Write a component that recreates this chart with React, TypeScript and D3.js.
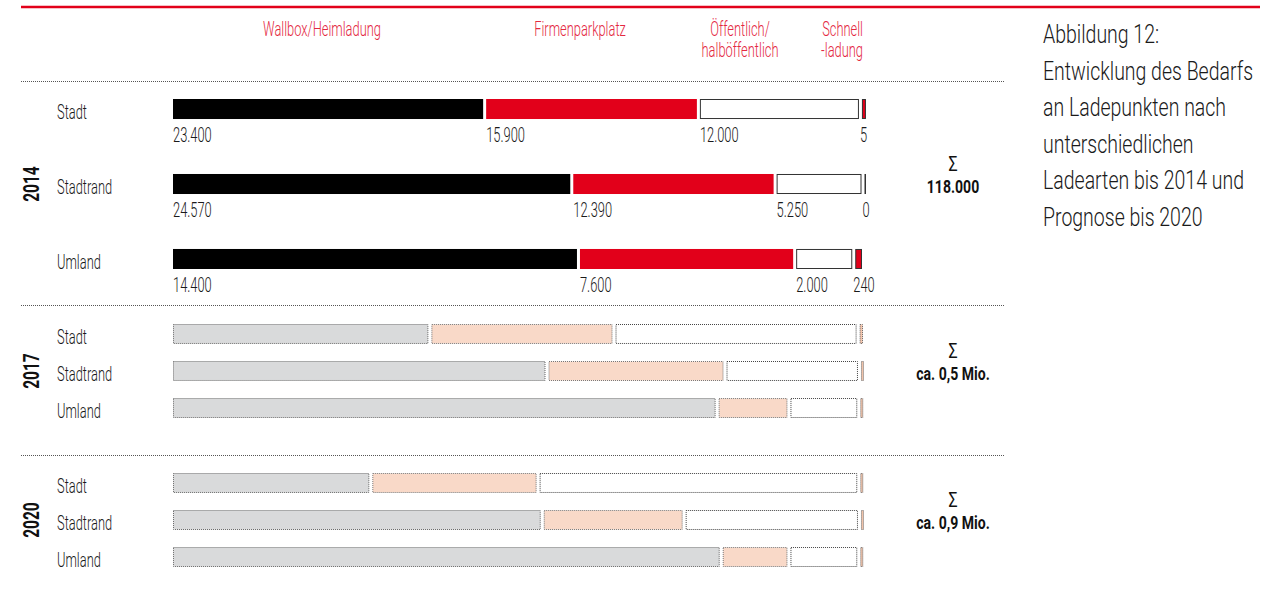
import React from 'react';
import * as d3 from 'd3';

// categories (segment order in every bar)
const categories = ['Wallbox/Heimladung', 'Firmenparkplatz', 'Öffentlich/halböffentlich', 'Schnellladung'];
const headerLines = [['Wallbox/Heimladung'], ['Firmenparkplatz'], ['Öffentlich/', 'halböffentlich'], ['Schnell', '-ladung']];
const areas = ['Stadt', 'Stadtrand', 'Umland'];
const years = ['2014', '2017', '2020'];

// 2014: counted charging points
const values2014 = [
  [23400, 15900, 12000, 5],
  [24570, 12390, 5250, 0],
  [14400, 7600, 2000, 240],
];
// 2017 / 2020 forecast: shares in % (no labels in original)
const shares2017 = [
  [37.5, 26.6, 35.4, 0.5],
  [54.7, 25.7, 19.3, 0.3],
  [79.6, 10.1, 9.8, 0.4],
];
const shares2020 = [
  [28.8, 24.1, 46.6, 0.4],
  [54.0, 20.4, 25.3, 0.3],
  [80.2, 9.5, 9.8, 0.4],
];
const sums = ['118.000', 'ca. 0,5 Mio.', 'ca. 0,9 Mio.'];
const titleLines = [
  'Abbildung 12:',
  'Entwicklung des Bedarfs',
  'an Ladepunkten nach',
  'unterschiedlichen',
  'Ladearten bis 2014 und',
  'Prognose bis 2020',
];

const RED = '#e2001a';
const FONT = "Roboto, 'DejaVu Sans', sans-serif";
const de = d3.formatLocale({ decimal: ',', thousands: '.', grouping: [3], currency: ['', ' €'] });
const fmt = de.format(',');

// layout of the three year blocks
const groups = [
  { data: values2014, top: 81, barTop: 99, barBottom: 269, pad: 0.733, actual: true },
  { data: shares2017, top: 305, barTop: 324, barBottom: 418, pad: 0.46, actual: false },
  { data: shares2020, top: 455, barTop: 473, barBottom: 567, pad: 0.46, actual: false },
];

const X0 = 173;
const X1 = 866;
const GAP = 3;

const styles2014 = [
  { fill: '#000', stroke: 'none' },
  { fill: RED, stroke: 'none' },
  { fill: '#fff', stroke: '#333' },
  { fill: RED, stroke: '#333' },
];
const stylesForecast = [
  { fill: '#d9dadb', stroke: '#666' },
  { fill: '#f9d9c8', stroke: '#777' },
  { fill: '#fff', stroke: '#444' },
  { fill: '#f3c4ab', stroke: '#666' },
];

const T = ({ x, y, children, sx = 0.66, size = 19.5, weight = 300, anchor = 'start', fill = '#1a1a1a', rotate = 0 }: any) => (
  <text
    transform={`translate(${x},${y})${rotate ? ` rotate(${rotate})` : ''} scale(${sx},1)`}
    textAnchor={anchor}
    fontSize={size}
    fontWeight={weight}
    fontFamily={FONT}
    fill={fill}
  >
    {children}
  </text>
);

function layoutRow(vals: number[], minLast: number) {
  const total = d3.sum(vals);
  const x = d3.scaleLinear().domain([0, total]).range([0, X1 - X0 - GAP * (vals.length - 1) - minLast]);
  let pos = X0;
  return vals.map((v, i) => {
    const w = i === vals.length - 1 ? Math.max(minLast, x(v)) : x(v);
    const seg = { x: pos, w, v, i };
    pos += w + GAP;
    return seg;
  });
}

export default function App() {
  return (
    <svg width={1284} height={599} style={{ position: 'absolute', left: 0, top: 0, display: 'block' }}>
      <rect width={1284} height={599} fill="#fff" />
      <line x1={21} x2={1260} y1={7} y2={7} stroke={RED} strokeWidth={2.5} />

      {headerLines.map((lines, i) =>
        lines.map((l, j) => {
          const cx = [322, 580, 740, 863][i];
          return (
            <T key={categories[i] + j} x={cx} y={35.5 + j * 21} anchor={i === 3 ? 'end' : 'middle'} fill="#e4283f">
              {l}
            </T>
          );
        })
      )}

      {groups.map((g, gi) => {
        const y = d3.scaleBand<string>().domain(areas).range([g.barTop, g.barBottom]).paddingInner(g.pad);
        const mid = (g.barTop + g.barBottom) / 2;
        const st = g.actual ? styles2014 : stylesForecast;
        return (
          <g key={years[gi]}>
            <line x1={21} x2={1005} y1={g.top + 0.5} y2={g.top + 0.5} stroke="#555" strokeDasharray="1,1" />
            <T x={38.5} y={mid} rotate={-90} anchor="middle" size={21.5} weight={700} sx={0.72} fill="#111">
              {years[gi]}
            </T>
            <T x={953} y={mid - 13} anchor="middle" size={20} weight={400} sx={0.8} fill="#111">
              Σ
            </T>
            <T x={953} y={mid + 9} anchor="middle" size={18.5} weight={700} sx={0.76} fill="#111">
              {sums[gi]}
            </T>
            {areas.map((a, ri) => {
              const top = y(a)!;
              const h = y.bandwidth();
              const segs = layoutRow(g.data[ri], g.actual ? (g.data[ri][3] === 0 ? 1.5 : 4) : 3);
              return (
                <g key={a}>
                  <T x={57} y={top + h}>{a}</T>
                  {segs.map((s) => {
                    const sty = st[s.i];
                    const stroked = sty.stroke !== 'none';
                    return (
                      <rect
                        key={s.i}
                        x={stroked ? s.x + 0.5 : s.x}
                        y={stroked ? top + 0.5 : top}
                        width={Math.max(0.5, stroked ? s.w - 1 : s.w)}
                        height={stroked ? h - 1 : h}
                        fill={sty.fill}
                        stroke={sty.stroke}
                        strokeWidth={1}
                        strokeDasharray={g.actual ? undefined : '1,1'}
                      />
                    );
                  })}
                  {g.actual &&
                    segs.map((s) => (
                      <T key={'v' + s.i} x={s.x - (s.i === 3 ? 2 : 0)} y={top + h + 23}>
                        {fmt(s.v)}
                      </T>
                    ))}
                </g>
              );
            })}
          </g>
        );
      })}

      {titleLines.map((l, i) => (
        <T key={l} x={1043} y={43 + i * 36.5} size={25} sx={0.78}>
          {l}
        </T>
      ))}
    </svg>
  );
}
